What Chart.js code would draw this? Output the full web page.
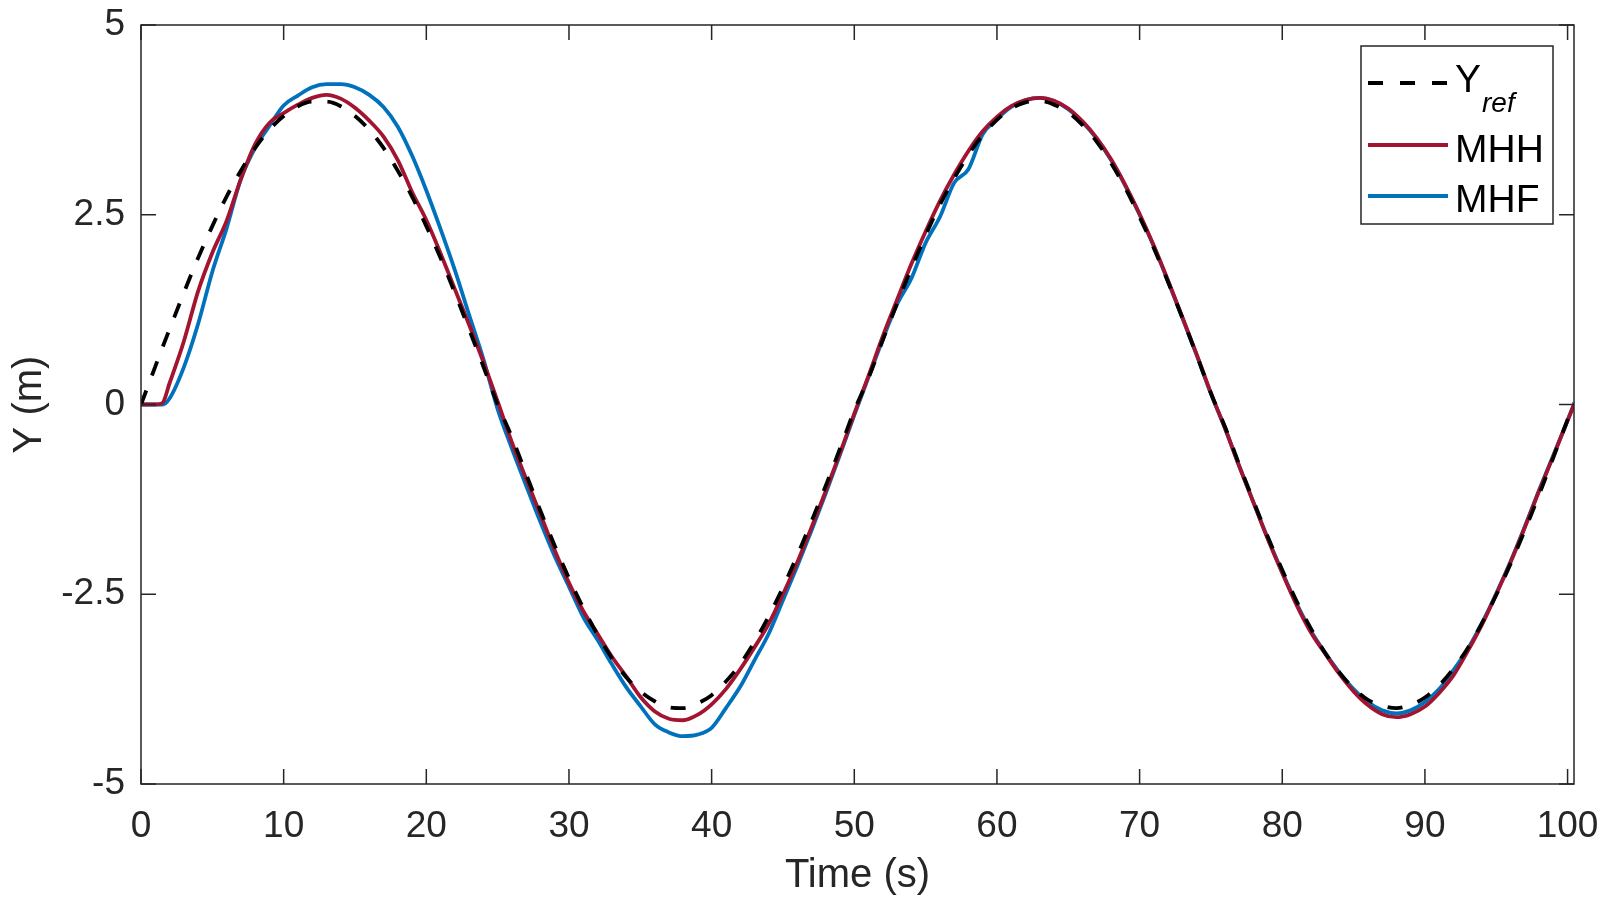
<!DOCTYPE html>
<html><head><meta charset="utf-8">
<script src="https://cdn.jsdelivr.net/npm/chart.js@4.4.0/dist/chart.umd.min.js"></script>
<style>html,body{margin:0;padding:0;background:#fff;}#wrap{width:1600px;height:900px;position:relative;}</style>
</head><body><div id="wrap"><canvas id="c"></canvas></div>
<script>
// ---- data ----
const time = [0, 1, 1.5, 2, 3, 4, 5, 6, 7, 8, 9, 10, 11, 12, 13, 14, 15, 16, 17, 18, 19, 20, 21, 22, 23, 24, 25,
  26, 27, 28, 29, 30, 31, 32, 33, 34, 35, 36, 37, 38, 39, 40, 41, 42, 43, 44, 45, 46, 47, 48, 49, 50,
  51, 52, 53, 54, 55, 56, 57, 58, 59, 60, 61, 62, 63, 64, 65, 66, 67, 68, 69, 70, 71, 72, 73, 74, 75,
  76, 77, 78, 79, 80, 81, 82, 83, 84, 85, 86, 87, 88, 89, 90, 91, 92, 93, 94, 95, 96, 97, 98, 99, 100, 100.45];

const yRef = [0.00, 0.50, 0.75, 0.99, 1.47, 1.93, 2.35, 2.74, 3.08, 3.38, 3.62, 3.80, 3.93, 3.99, 3.99, 3.93, 3.80, 3.62, 3.38, 3.08, 2.74, 2.35, 1.93, 1.47, 0.99, 0.50, 0.00,
  -0.43, -0.92, -1.40, -1.86, -2.29, -2.68, -3.03, -3.34, -3.59, -3.78, -3.91, -3.99, -4.00, -3.94, -3.83, -3.65, -3.42, -3.13, -2.79, -2.41, -1.99, -1.54, -1.07, -0.58, -0.08,
  0.35, 0.85, 1.33, 1.79, 2.23, 2.63, 2.98, 3.29, 3.55, 3.75, 3.90, 3.98, 4.00, 3.95, 3.85, 3.68, 3.46, 3.18, 2.85, 2.47, 2.06, 1.61, 1.14, 0.65, 0.15,
  -0.30, -0.80, -1.28, -1.75, -2.18, -2.59, -2.95, -3.27, -3.53, -3.74, -3.89, -3.97, -4.00, -3.96, -3.86, -3.70, -3.48, -3.21, -2.88, -2.51, -2.10, -1.66, -1.19, -0.70, -0.20, 0.02];

const yMHH = [0, 0, 0.02, 0.28, 0.83, 1.49, 2.00, 2.42, 2.97, 3.43, 3.71, 3.84, 3.95, 4.04, 4.08, 4.03, 3.91, 3.74, 3.53, 3.22, 2.80, 2.43, 1.99, 1.52, 1.05, 0.56, 0.04,
  -0.50, -0.98, -1.45, -1.92, -2.35, -2.72, -3.02, -3.32, -3.58, -3.85, -4.04, -4.14, -4.16, -4.09, -3.95, -3.75, -3.49, -3.20, -2.89, -2.50, -2.08, -1.62, -1.14, -0.64, -0.12,
  0.38, 0.90, 1.38, 1.85, 2.28, 2.68, 3.03, 3.34, 3.60, 3.79, 3.93, 4.01, 4.04, 4.00, 3.90, 3.73, 3.51, 3.23, 2.89, 2.51, 2.09, 1.63, 1.15, 0.66, 0.15,
  -0.32, -0.82, -1.30, -1.78, -2.22, -2.64, -3.00, -3.28, -3.55, -3.78, -3.96, -4.08, -4.12, -4.08, -3.98, -3.80, -3.57, -3.25, -2.90, -2.50, -2.08, -1.62, -1.14, -0.68, -0.21, 0.00];

const yMHF = [0, 0, 0, 0.08, 0.49, 1.06, 1.75, 2.32, 2.97, 3.38, 3.67, 3.94, 4.07, 4.18, 4.22, 4.22, 4.18, 4.08, 3.92, 3.66, 3.28, 2.82, 2.31, 1.77, 1.18, 0.60, -0.06,
  -0.58, -1.07, -1.55, -2.00, -2.40, -2.80, -3.10, -3.42, -3.72, -3.97, -4.21, -4.32, -4.37, -4.35, -4.26, -4.00, -3.72, -3.37, -3.02, -2.58, -2.13, -1.66, -1.17, -0.66, -0.14,
  0.36, 0.86, 1.32, 1.66, 2.13, 2.47, 2.92, 3.10, 3.56, 3.76, 3.92, 4.01, 4.04, 4.00, 3.89, 3.72, 3.50, 3.22, 2.88, 2.50, 2.08, 1.62, 1.14, 0.65, 0.14,
  -0.32, -0.82, -1.30, -1.77, -2.21, -2.62, -2.98, -3.27, -3.53, -3.75, -3.92, -4.03, -4.07, -4.03, -3.92, -3.75, -3.50, -3.22, -2.88, -2.49, -2.07, -1.61, -1.13, -0.67, -0.21, 0.00];

const xTicks = [0, 10, 20, 30, 40, 50, 60, 70, 80, 90, 100];
const yTicks = [-5, -2.5, 0, 2.5, 5];
const yTickLabels = ['-5', '-2.5', '0', '2.5', '5'];
const seriesNames = ['Y', 'MHH', 'MHF'];
const refSubscript = 'ref';
const xTitle = 'Time (s)';
const yTitle = 'Y (m)';

// ---- styling ----
const FONT = '"Liberation Sans", Arial, Helvetica, sans-serif';
const TXT = '#262626';
const RED = '#A2142F';
const BLUE = '#0072BD';

function pts(ys) { return time.map((t, i) => ({ x: t, y: ys[i] })); }
function noPad(s) { s.paddingTop = 0; s.paddingBottom = 0; s.paddingLeft = 0; s.paddingRight = 0; }

const boxPlugin = {
  id: 'matlabBox',
  afterDatasetsDraw(chart) {
    const { ctx, chartArea: a, scales: { x, y } } = chart;
    ctx.save();
    ctx.strokeStyle = TXT;
    ctx.lineWidth = 1.5;
    ctx.strokeRect(a.left, a.top, a.right - a.left, a.bottom - a.top);
    const L = 15;
    ctx.beginPath();
    xTicks.forEach(v => {
      const px = x.getPixelForValue(v);
      ctx.moveTo(px, a.bottom); ctx.lineTo(px, a.bottom - L);
      ctx.moveTo(px, a.top); ctx.lineTo(px, a.top + L);
    });
    yTicks.forEach(v => {
      const py = y.getPixelForValue(v);
      ctx.moveTo(a.left, py); ctx.lineTo(a.left + L, py);
      ctx.moveTo(a.right, py); ctx.lineTo(a.right - L, py);
    });
    ctx.stroke();
    ctx.restore();
  },
  afterDraw(chart) {
    const { ctx, chartArea: a } = chart;
    const bx = a.right - 213, by = a.top + 21, bw = 192, bh = 178;
    ctx.save();
    ctx.fillStyle = '#ffffff';
    ctx.fillRect(bx, by, bw, bh);
    ctx.strokeStyle = TXT;
    ctx.lineWidth = 1.5;
    ctx.strokeRect(bx, by, bw, bh);
    const lx0 = bx + 7, lx1 = bx + 87, tx = bx + 94;
    const rows = [
      { ly: by + 37, base: by + 46, color: '#000000', dash: [15, 17] },
      { ly: by + 99, base: by + 116, color: RED, dash: [] },
      { ly: by + 150, base: by + 166, color: BLUE, dash: [] }
    ];
    rows.forEach((r, i) => {
      ctx.beginPath();
      ctx.setLineDash(r.dash);
      ctx.lineWidth = 4;
      ctx.strokeStyle = r.color;
      ctx.lineCap = 'butt';
      ctx.moveTo(lx0, r.ly); ctx.lineTo(lx1, r.ly);
      ctx.stroke();
      ctx.setLineDash([]);
      ctx.fillStyle = '#000000';
      ctx.font = '39px ' + FONT;
      ctx.textAlign = 'left';
      ctx.textBaseline = 'alphabetic';
      ctx.fillText(seriesNames[i], tx, r.base);
      if (i === 0) {
        const w = ctx.measureText(seriesNames[i]).width;
        ctx.font = 'italic 28px ' + FONT;
        ctx.fillText(refSubscript, tx + w + 1, r.base + 20);
      }
    });
    ctx.restore();
  }
};

new Chart(document.getElementById('c'), {
  type: 'line',
  data: {
    datasets: [
      { label: 'Yref', data: pts(yRef), borderColor: '#000000', borderWidth: 3.8, borderDash: [15, 16], pointRadius: 0, fill: false, cubicInterpolationMode: 'monotone' },
      { label: 'MHH', data: pts(yMHH), borderColor: RED, borderWidth: 3.8, pointRadius: 0, fill: false, cubicInterpolationMode: 'monotone' },
      { label: 'MHF', data: pts(yMHF), borderColor: BLUE, borderWidth: 3.8, pointRadius: 0, fill: false, cubicInterpolationMode: 'monotone' }
    ]
  },
  options: {
    responsive: true,
    maintainAspectRatio: false,
    animation: false,
    devicePixelRatio: 1,
    layout: { padding: { top: 25, right: 26, left: 0, bottom: 0 } },
    plugins: { legend: { display: false }, tooltip: { enabled: false } },
    scales: {
      x: {
        type: 'linear', min: 0, max: 100.45,
        afterBuildTicks: s => { s.ticks = xTicks.map(v => ({ value: v })); },
        afterFit: s => { s.height = 116; noPad(s); },
        grid: { display: false, drawTicks: false },
        border: { display: false },
        ticks: { color: TXT, font: { family: FONT, size: 37 }, padding: 21, autoSkip: false, maxRotation: 0, minRotation: 0 },
        title: { display: true, text: xTitle, color: TXT, font: { family: FONT, size: 40 }, padding: { top: 0, bottom: 0 } }
      },
      y: {
        min: -5, max: 5,
        afterBuildTicks: s => { s.ticks = yTicks.map(v => ({ value: v })); },
        afterFit: s => { s.width = 141; noPad(s); },
        grid: { display: false, drawTicks: false },
        border: { display: false },
        ticks: { color: TXT, font: { family: FONT, size: 37 }, padding: 16, autoSkip: false,
          callback: (v) => { const i = yTicks.indexOf(v); return i >= 0 ? yTickLabels[i] : ''; } },
        title: { display: true, text: yTitle, color: TXT, font: { family: FONT, size: 40 }, padding: { top: 6, bottom: 0 } }
      }
    }
  },
  plugins: [boxPlugin]
});
</script>
</body></html>
